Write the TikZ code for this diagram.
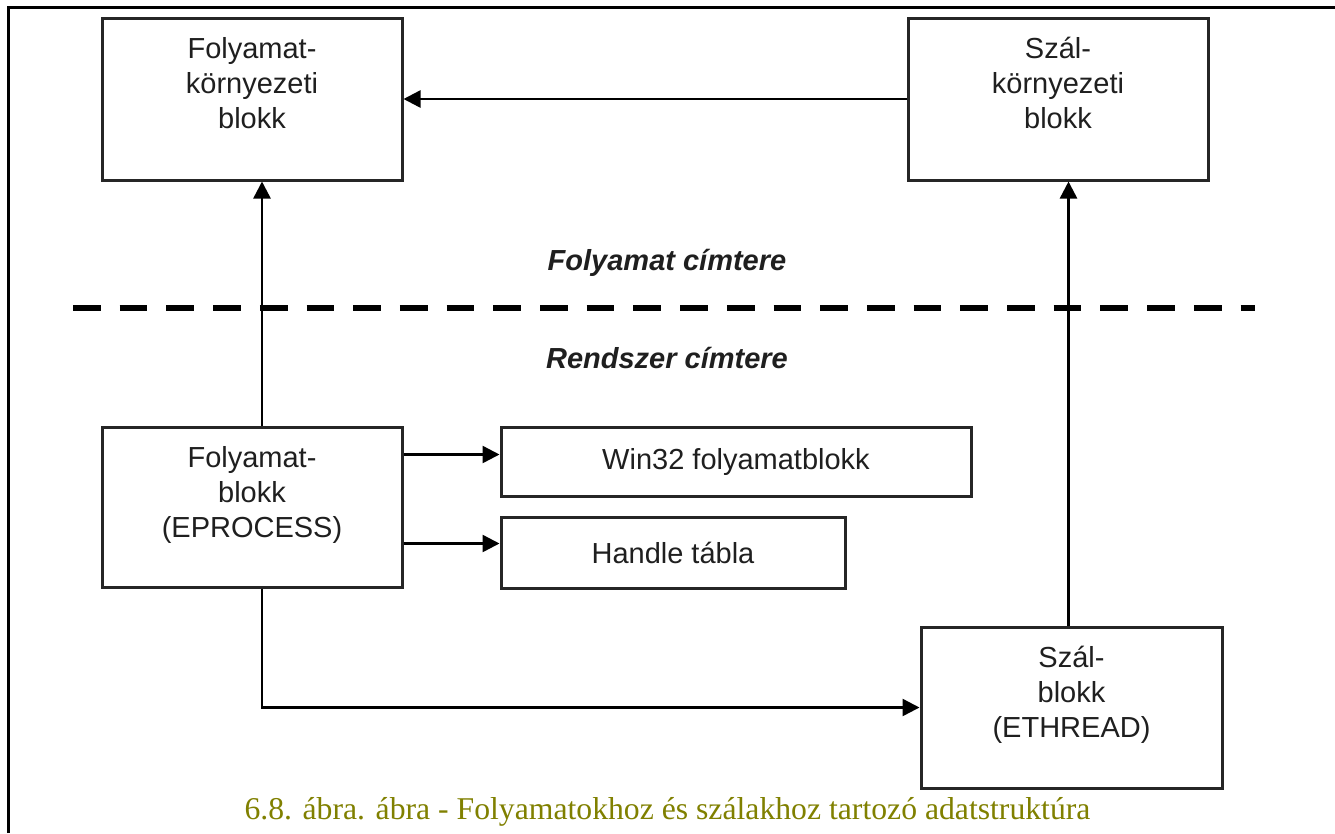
\documentclass[tikz,border=0pt]{standalone}
\usepackage{fontspec}
\setmainfont{Liberation Serif}
\setsansfont{Liberation Sans}
\usepackage{tikz}
\usepackage{xcolor}
\usetikzlibrary{arrows.meta,positioning}
\definecolor{captionolive}{HTML}{808000}

\begin{document}
\begin{tikzpicture}[x=1pt, y=-1pt,
        box/.style={draw=black!85, line width=3pt, rectangle, inner sep=0pt, align=center,
            font=\sffamily\fontsize{29}{35}\selectfont, text=black!88},
        txt/.style={align=center, inner sep=0pt, outer sep=0pt,
            font=\sffamily\fontsize{29}{35}\selectfont, text=black!88},
        space/.style={anchor=base, font=\sffamily\bfseries\itshape\fontsize{29}{35}\selectfont, text=black!88},
        arr/.style={line width=2.5pt, -{Triangle[length=17pt, width=17pt]}}]
        \useasboundingbox (0,0) rectangle (1335,833);
        \draw[line width=3pt] (8,833) -- (8,7.5) -- (1335,7.5);

        \node (fk)  at ( 252,  99.0) [box, minimum width=300pt, minimum height=162pt] {};
        \node (sk)  at (1058,  99.0) [box, minimum width=300pt, minimum height=162pt] {};
        \node (ep)  at ( 252, 507.0) [box, minimum width=300pt, minimum height=160pt] {};
        \node (w32) at ( 736, 461.5) [box, minimum width=470pt, minimum height=69pt] {Win32 folyamatblokk};
        \node (hnd) at ( 673, 552.5) [box, minimum width=344pt, minimum height=71pt] {Handle tábla};
        \node (et)  at (1071.5, 707.5) [box, minimum width=301pt, minimum height=161pt] {};

        \node (fkt) [txt, below=21pt of fk.north] {Folyamat-\\környezeti\\blokk};
        \node (skt) [txt, below=21pt of sk.north] {Szál-\\környezeti\\blokk};
        \node (ept) [txt, below=21pt of ep.north] {Folyamat-\\blokk\\(EPROCESS)};
        \node (ett) [txt, below=21pt of et.north] {Szál-\\blokk\\(ETHREAD)};

        \node (fc) at (667, 270) [space] {Folyamat címtere};
        \node (rc) at (667, 368) [space] {Rendszer címtere};
        \draw[line width=6.5pt, dash pattern=on 27.7pt off 19pt] (73,308) -- (1255,308);

        \draw[arr] (sk.west) -- (fk.east);
        \draw[arr] ([xshift=10pt]ep.north) -- ([xshift=10pt]fk.south);
        \draw[arr] ([yshift=7pt]w32.west -| ep.east) -- ([yshift=7pt]w32.west);
        \draw[arr] ([yshift=9pt]hnd.west -| ep.east) -- ([yshift=9pt]hnd.west);
        \draw[arr] ([xshift=10pt]ep.south) |- (et.west);
        \draw[arr] ([xshift=-3pt]et.north) -- ([xshift=-3pt]et.north |- sk.south);

        \node (cap) at (667.5, 819) [anchor=base, font=\rmfamily\fontsize{31.7}{38}\selectfont, text=captionolive]
            {6.8. ábra. ábra - Folyamatokhoz és szálakhoz tartozó adatstruktúra};
    \end{tikzpicture}
\end{document}
